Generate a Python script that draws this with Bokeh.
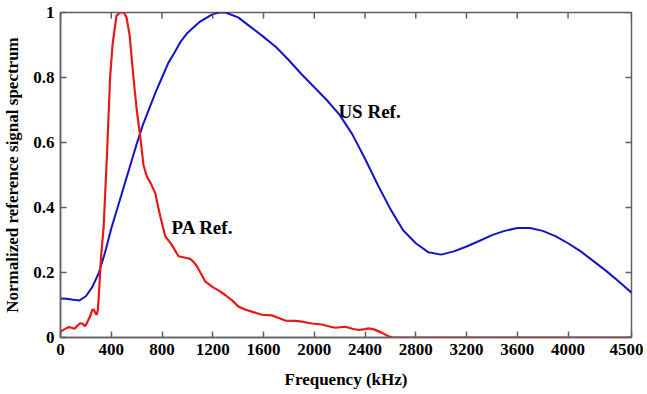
import math
from bokeh.plotting import figure
from bokeh.models import FixedTicker, Range1d, Label
from bokeh.embed import file_html
from bokeh.resources import INLINE

# ---- data ----
us_freq = [0, 50, 100, 150, 200, 250, 300, 350, 400, 450, 500, 550, 600, 650, 700,
           750, 800, 850, 900, 950, 1000, 1100, 1200, 1250, 1300, 1400, 1500, 1600,
           1700, 1800, 1900, 2000, 2100, 2200, 2300, 2400, 2500, 2600, 2700, 2800,
           2900, 3000, 3100, 3200, 3300, 3400, 3500, 3600, 3700, 3800, 3900, 4000,
           4100, 4200, 4300, 4400, 4500]
us_amp = [0.120, 0.119, 0.116, 0.114, 0.127, 0.155, 0.197, 0.26, 0.335, 0.40, 0.465,
          0.53, 0.595, 0.655, 0.705, 0.755, 0.80, 0.845, 0.878, 0.912, 0.937, 0.972,
          0.995, 1.0, 1.0, 0.985, 0.955, 0.925, 0.893, 0.853, 0.81, 0.77, 0.73, 0.685,
          0.625, 0.55, 0.47, 0.395, 0.33, 0.29, 0.262, 0.255, 0.265, 0.28, 0.297,
          0.315, 0.328, 0.337, 0.337, 0.328, 0.312, 0.29, 0.265, 0.235, 0.205, 0.172,
          0.138]

pa_freq = [0, 30, 63, 90, 110, 130, 155, 175, 194, 215, 234, 250, 262, 275, 285, 295,
           305, 320, 340, 365, 391, 410, 441, 470, 500, 520, 545, 562, 580, 601, 628,
           654, 680, 710, 746, 786, 825, 877, 930, 1000, 1022, 1050, 1074, 1140, 1200,
           1245, 1300, 1350, 1403, 1455, 1520, 1587, 1665, 1720, 1771, 1850, 1902,
           1981, 2059, 2120, 2165, 2244, 2300, 2349, 2400, 2428, 2470, 2530, 2585,
           2620, 4500]
pa_amp = [0.018, 0.025, 0.032, 0.030, 0.027, 0.035, 0.044, 0.042, 0.035, 0.050, 0.066,
          0.085, 0.086, 0.075, 0.070, 0.085, 0.15, 0.25, 0.34, 0.55, 0.80, 0.90, 0.99,
          1.0, 1.0, 0.985, 0.93, 0.855, 0.78, 0.70, 0.62, 0.53, 0.496, 0.475, 0.445,
          0.373, 0.312, 0.285, 0.25, 0.244, 0.242, 0.232, 0.22, 0.173, 0.155, 0.145,
          0.13, 0.115, 0.095, 0.086, 0.078, 0.070, 0.068, 0.060, 0.052, 0.051, 0.049,
          0.043, 0.040, 0.034, 0.030, 0.033, 0.027, 0.023, 0.026, 0.028, 0.025,
          0.015, 0.004, 0.0, 0.0]

x_ticks = [0, 400, 800, 1200, 1600, 2000, 2400, 2800, 3200, 3600, 4000, 4500]
y_ticks = [0, 0.2, 0.4, 0.6, 0.8, 1]
y_tick_labels = {0: "0", 0.2: "0.2", 0.4: "0.4", 0.6: "0.6", 0.8: "0.8", 1: "1"}
x_min, x_max = 0, 4500
y_min, y_max = 0, 1

TICK_FONT = "Liberation Sans Narrow"
SERIF = "Liberation Serif"
AXIS_COLOR = "#606060"

p = figure(x_range=Range1d(x_min, x_max), y_range=Range1d(y_min, y_max),
           output_backend="svg", toolbar_location=None,
           frame_width=571, frame_height=325,
           min_border_left=54, min_border_top=12, min_border_right=12, min_border_bottom=5)
p.grid.visible = False
p.outline_line_color = AXIS_COLOR
p.outline_line_width = 1.5
p.background_fill_color = "white"
p.border_fill_color = "white"

p.line(us_freq, us_amp, line_color="#1414c8", line_width=2)
p.line(pa_freq, pa_amp, line_color="#e81818", line_width=2.2)

# inward ticks on the top and right frame edges (half of each dash is clipped by the frame)
p.scatter(x=x_ticks, y=[y_max] * len(x_ticks), marker="dash", size=12, angle=math.pi / 2,
          line_color=AXIS_COLOR, line_width=1.5)
p.scatter(x=[x_max] * len(y_ticks), y=y_ticks, marker="dash", size=12,
          line_color=AXIS_COLOR, line_width=1.5)

xa = p.xaxis[0]
ya = p.yaxis[0]
xa.ticker = FixedTicker(ticks=x_ticks)
ya.ticker = FixedTicker(ticks=y_ticks)
ya.major_label_overrides = y_tick_labels

for ax in [xa, ya]:
    ax.axis_line_color = AXIS_COLOR
    ax.axis_line_width = 1.5
    ax.major_tick_line_color = AXIS_COLOR
    ax.major_tick_line_width = 1.5
    ax.major_tick_in = 6
    ax.major_tick_out = 0
    ax.minor_tick_line_color = None
    ax.major_label_text_font = TICK_FONT
    ax.major_label_text_font_style = "bold"
    ax.major_label_text_font_size = "17px"
    ax.major_label_text_color = "black"
    ax.major_label_standoff = 6
    ax.axis_label_text_font = SERIF
    ax.axis_label_text_font_style = "bold"
    ax.axis_label_text_font_size = "17px"
    ax.axis_label_text_color = "black"

xa.axis_label = "Frequency (kHz)"
ya.axis_label = "Normalized reference signal spectrum"
xa.axis_label_standoff = 12
ya.axis_label_standoff = 8

p.add_layout(Label(x=2190, y=0.695, text="US Ref.", text_font=SERIF,
                   text_font_style="bold", text_font_size="19px", text_baseline="middle",
                   text_color="black"))
p.add_layout(Label(x=875, y=0.338, text="PA Ref.", text_font=SERIF,
                   text_font_style="bold", text_font_size="19px", text_baseline="middle",
                   text_color="black"))

open("out.html", "w").write(file_html(p, INLINE))
